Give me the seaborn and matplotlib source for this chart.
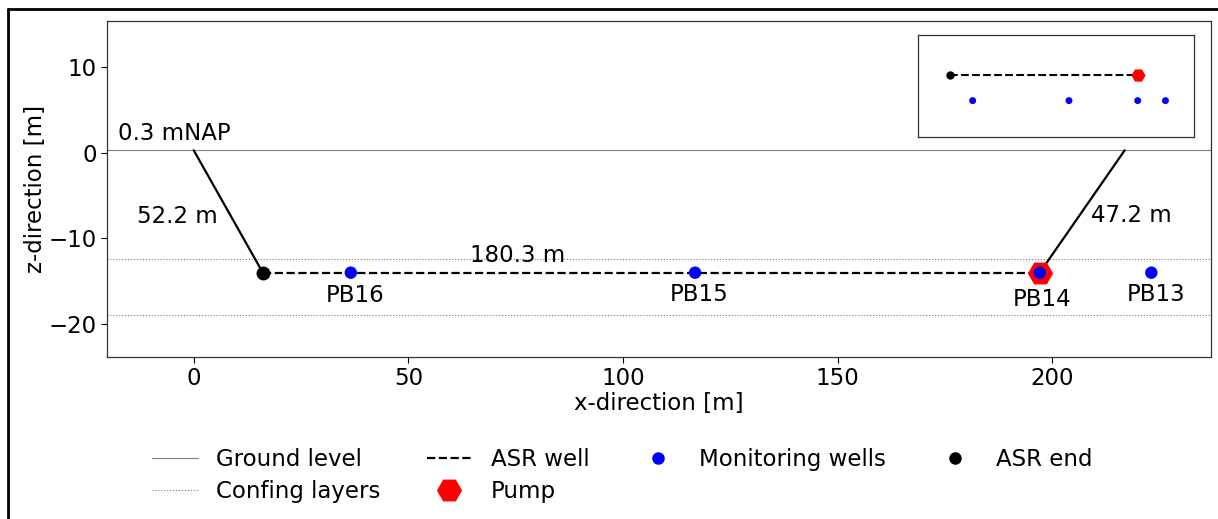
import matplotlib
matplotlib.use("Agg")
import matplotlib.pyplot as plt
from matplotlib.lines import Line2D
import seaborn as sns
import pandas as pd

# ---- data ----
ground_level = 0.3
confining_layers = [-12.4, -18.9]
well_depth = -14.0
asr_end_x = 16.1
pump_x = 197.1
right_top_x = 216.9
monitor_names = ["PB16", "PB15", "PB14", "PB13"]
monitor_x = [36.6, 116.8, 197.1, 223.1]
monitor_label_xy = [(37.7, -16.7), (117.7, -16.6), (197.6, -17.1), (224.2, -16.5)]
annot_texts = ["0.3 mNAP", "52.2 m", "180.3 m", "47.2 m"]
annot_xy = [(-4.45, 2.2), (-3.75, -7.4), (75.4, -12.05), (218.4, -7.3)]
# inset (plan view)
inset_asr_x = [16.1, 197.1]
inset_asr_y = [0.0, 0.0]
inset_mon_x = [37.6, 130.7, 197.1, 223.9]
inset_mon_y = [-24.2, -24.2, -24.2, -24.2]

sns.set_style("ticks")
plt.rcParams["font.family"] = ["DejaVu Sans"]
plt.rcParams.update({"text.color": "black", "axes.labelcolor": "black",
                     "xtick.color": "black", "ytick.color": "black"})
FS = 16.5

fig = plt.figure(figsize=(12.18, 5.19), dpi=100)
ax = fig.add_axes([107/1218, 1-357/519, (1211-107)/1218, (357-21)/519])

# ground level and confining layers
ax.axhline(ground_level, color="grey", lw=0.8, ls="-")
for c in confining_layers:
    ax.axhline(c, color="grey", lw=0.8, ls=":")

# inclined sections
ax.plot([0, asr_end_x], [ground_level, well_depth], color="black", lw=1.6)
ax.plot([pump_x, right_top_x], [well_depth, ground_level], color="black", lw=1.6)

# ASR well
well_df = pd.DataFrame({"x": [asr_end_x, pump_x], "z": [well_depth, well_depth]})
sns.lineplot(data=well_df, x="x", y="z", ax=ax, color="black", lw=1.6,
             linestyle=(0, (3.7, 1.6)), legend=False)

# pump
ax.plot([pump_x], [well_depth], marker="H", ms=17, color="red", ls="none")

# monitoring wells
mon_df = pd.DataFrame({"x": monitor_x, "z": [well_depth]*len(monitor_x)})
sns.scatterplot(data=mon_df, x="x", y="z", ax=ax, color="blue", s=80, edgecolor="none",
                zorder=5, legend=False)
# ASR end
ax.plot([asr_end_x], [well_depth], marker="o", ms=9, color="black", ls="none", zorder=6)

for name, (tx, ty) in zip(monitor_names, monitor_label_xy):
    ax.text(tx, ty, name, ha="center", va="center", fontsize=FS)
for t, (tx, ty) in zip(annot_texts, annot_xy):
    ax.text(tx, ty, t, ha="center", va="center", fontsize=FS)

ax.set_xlim(-20.2, 237.0)
ax.set_ylim(-23.85, 15.4)
ax.set_xticks([0, 50, 100, 150, 200])
ax.set_yticks([-20, -10, 0, 10])
ax.tick_params(labelsize=FS, direction="out", length=4, width=0.8)
ax.set_xlabel("x-direction [m]", fontsize=FS, labelpad=1)
ax.set_ylabel("z-direction [m]", fontsize=FS, labelpad=1)
for s in ax.spines.values():
    s.set_visible(True)
    s.set_linewidth(0.9)
    s.set_color("#333333")

handles = [
    Line2D([], [], color="grey", lw=0.8, ls="-"),
    Line2D([], [], color="grey", lw=0.8, ls=":"),
    Line2D([], [], color="black", lw=1.6, ls=(0, (3.7, 1.6))),
    Line2D([], [], color="red", marker="H", ms=17, ls="none"),
    Line2D([], [], color="blue", marker="o", ms=8, ls="none"),
    Line2D([], [], color="black", marker="o", ms=8, ls="none"),
]
labels = ["Ground level", "Confing layers", "ASR well", "Pump", "Monitoring wells", "ASR end"]
fig.legend(handles, labels, loc="upper center", bbox_to_anchor=(0.511, 1-427/519), ncol=4,
           frameon=False, fontsize=FS, handlelength=2.0, columnspacing=2.0,
           labelspacing=0.42, handletextpad=0.8)

# inset
axin = fig.add_axes([918/1218, 1-137/519, (1194-918)/1218, (137-35)/519])
axin.plot(inset_asr_x, inset_asr_y, color="black", lw=1.5, ls=(0, (3.7, 1.6)))
axin.plot([inset_asr_x[1]], [inset_asr_y[1]], marker="H", ms=9, color="red", ls="none")
axin.plot([inset_asr_x[0]], [inset_asr_y[0]], marker="o", ms=5, color="black", ls="none")
sns.scatterplot(x=inset_mon_x, y=inset_mon_y, ax=axin, color="blue", s=25, edgecolor="none", legend=False)
axin.set_xlim(-15.2, 251.5)
axin.set_ylim(-59.2, 38.9)
axin.set_xticks([])
axin.set_yticks([])
for s in axin.spines.values():
    s.set_visible(True)
    s.set_linewidth(0.9)
    s.set_color("#333333")

# screenshot frame (left and top)
fig.add_artist(Line2D([8/1218, 8/1218], [0, 1-9/519], transform=fig.transFigure, color="black", lw=2))
fig.add_artist(Line2D([8/1218, 1], [1-9/519, 1-9/519], transform=fig.transFigure, color="black", lw=2))

fig.savefig("out.png", dpi=100, facecolor="white")
